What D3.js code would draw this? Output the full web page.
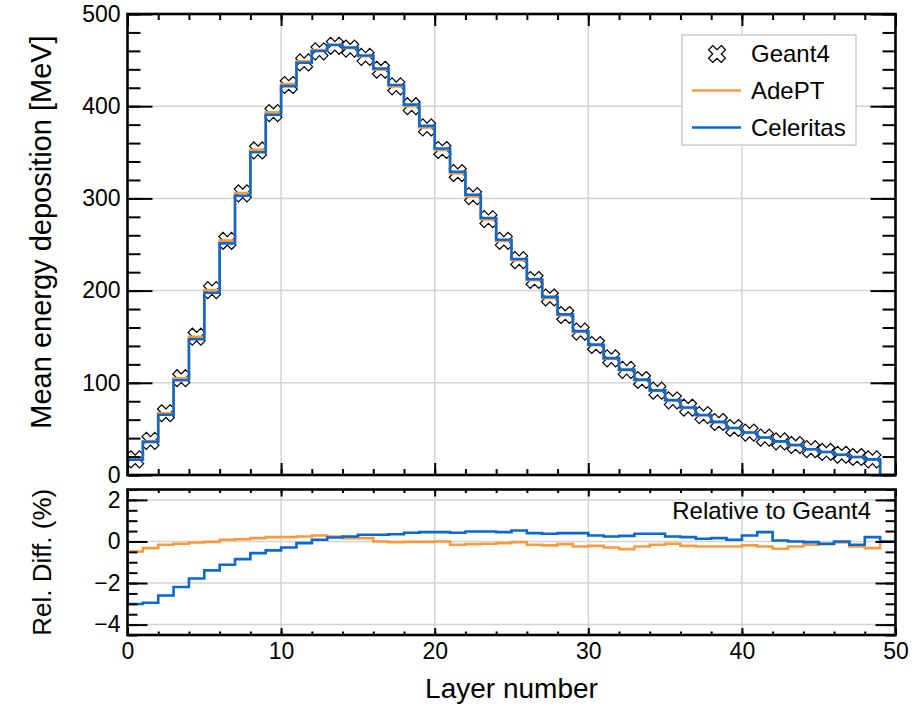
<!DOCTYPE html>
<html>
<head>
<meta charset="utf-8">
<script src="https://cdn.jsdelivr.net/npm/d3@7"></script>
<style>
body { margin: 0; background: #fff; }
svg { font-family: "Liberation Sans", Arial, Helvetica, sans-serif; }
.tick text { font-size: 23px; fill: #000; }
.tick line { stroke: #000; stroke-width: 2; }
</style>
</head>
<body>
<svg id="chart" width="917" height="706"></svg>
<script>
// mean energy deposition per layer [MeV], bins 0..48 (Geant4 markers)
const geant4 = [17.0, 37.0, 67.0, 105.0, 150.0, 200.5, 254.0, 305.5, 352.0, 392.5,
  423.0, 447.5, 459.5, 465.5, 462.5, 453.5, 439.5, 421.5, 400.0, 377.0,
  352.5, 327.5, 302.5, 277.5, 254.0, 233.0, 211.5, 192.5, 173.5, 155.5,
  141.0, 126.5, 114.0, 103.0, 91.5, 81.0, 73.0, 65.0, 57.5, 51.0,
  46.0, 40.5, 36.5, 32.5, 28.0, 25.0, 22.0, 19.5, 17.0];
// histograms, bins 0..49
const adept = [16.9, 36.9, 66.9, 104.9, 149.9, 200.5, 254.2, 305.8, 352.6, 393.3,
  423.9, 448.6, 460.8, 466.6, 463.2, 454.2, 439.5, 421.4, 399.9, 376.9,
  352.5, 327.0, 302.1, 277.2, 253.8, 232.9, 211.2, 192.1, 173.3, 155.1,
  140.7, 126.1, 113.6, 102.8, 91.4, 80.9, 72.8, 64.8, 57.4, 50.9,
  45.9, 40.4, 36.4, 32.4, 28.0, 25.0, 22.0, 19.5, 16.9, 0];
const celeritas = [16.5, 35.9, 65.3, 102.7, 147.3, 197.7, 251.2, 302.9, 350.0, 390.8,
  421.8, 447.1, 459.9, 466.4, 463.6, 455.0, 440.9, 423.0, 401.7, 378.7,
  354.1, 328.9, 304.0, 278.8, 255.1, 234.2, 212.3, 193.2, 174.2, 156.1,
  141.4, 126.8, 114.3, 103.4, 91.8, 81.2, 73.2, 65.1, 57.6, 51.0,
  46.1, 40.7, 36.5, 32.5, 28.0, 25.0, 22.0, 19.5, 17.0, 0];
// relative difference to Geant4 [%]
const relAdept = [-0.48, -0.32, -0.16, -0.11, -0.05, -0.02, 0.08, 0.11, 0.16, 0.21,
  0.21, 0.24, 0.29, 0.24, 0.16, 0.16, 0.0, -0.03, -0.02, -0.02,
  0.0, -0.16, -0.13, -0.11, -0.08, -0.03, -0.16, -0.19, -0.13, -0.24,
  -0.21, -0.29, -0.37, -0.24, -0.16, -0.11, -0.21, -0.24, -0.24, -0.24,
  -0.19, -0.24, -0.35, -0.24, -0.16, -0.13, -0.05, -0.24, -0.32, 0];
const relCeleritas = [-3.01, -2.95, -2.6, -2.19, -1.78, -1.39, -1.12, -0.85, -0.56, -0.43,
  -0.29, -0.08, 0.08, 0.19, 0.24, 0.32, 0.32, 0.35, 0.42, 0.45,
  0.45, 0.42, 0.48, 0.48, 0.45, 0.53, 0.40, 0.37, 0.40, 0.40,
  0.29, 0.24, 0.27, 0.37, 0.37, 0.24, 0.21, 0.13, 0.16, 0.08,
  0.29, 0.45, 0.05, 0.0, -0.03, -0.11, 0.0, -0.16, 0.21, 0];

const xTicks = [0, 10, 20, 30, 40, 50];
const yTicksTop = [0, 100, 200, 300, 400, 500];
const yTicksBottom = [-4, -2, 0, 2];
const legendNames = ["Geant4", "AdePT", "Celeritas"];

const ORANGE = "#f99b3c", BLUE = "#0a68cf", GRID = "#d4d4d4";

const svg = d3.select("#chart");
const x0 = 127.5, x1 = 895.5;
const top0 = 14, top1 = 475, bot0 = 489.5, bot1 = 635;

const x = d3.scaleLinear().domain([0, 50]).range([x0, x1]);
const yTop = d3.scaleLinear().domain([0, 500]).range([top1, top0]);
const yBot = d3.scaleLinear().domain([-4.5, 2.5]).range([bot1, bot0]);
const fmt = d3.format("d");

// filled "X" marker
const filledX = {
  draw(ctx, size) {
    const u = Math.sqrt(size);
    const pts = [[-1,-3],[1,-3],[1,-1],[3,-1],[3,1],[1,1],[1,3],[-1,3],[-1,1],[-3,1],[-3,-1],[-1,-1]];
    pts.forEach((p, i) => {
      const px = (p[0] - p[1]) / Math.SQRT2 * u, py = (p[0] + p[1]) / Math.SQRT2 * u;
      if (i === 0) ctx.moveTo(px, py); else ctx.lineTo(px, py);
    });
    ctx.closePath();
  }
};
const marker = d3.symbol().type(filledX).size(9);

function stepLine(y) {
  return vals => {
    const pts = [[0, 0]];
    vals.forEach((v, i) => pts.push([i, v]));
    pts.push([vals.length, vals[vals.length - 1]], [vals.length, 0]);
    return d3.line().x(d => x(d[0])).y(d => y(d[1])).curve(d3.curveStepAfter)(pts);
  };
}

svg.append("defs").call(d => {
  d.append("clipPath").attr("id", "clipTop").append("rect")
    .attr("x", x0).attr("y", top0).attr("width", x1 - x0).attr("height", top1 - top0);
  d.append("clipPath").attr("id", "clipBot").append("rect")
    .attr("x", x0).attr("y", bot0).attr("width", x1 - x0).attr("height", bot1 - bot0);
});

function panel(y, yTicks, p0, p1, clip, opts) {
  const g = svg.append("g");
  // grid
  g.append("g").selectAll("line").data(xTicks.filter(t => t > 0 && t < 50)).join("line")
    .attr("x1", d => x(d)).attr("x2", d => x(d)).attr("y1", p0).attr("y2", p1)
    .attr("stroke", GRID).attr("stroke-width", 1.5);
  g.append("g").selectAll("line").data(yTicks.filter(t => y(t) > p0 + 1 && y(t) < p1 - 1)).join("line")
    .attr("x1", x0).attr("x2", x1).attr("y1", d => y(d)).attr("y2", d => y(d))
    .attr("stroke", GRID).attr("stroke-width", 1.5);

  const data = g.append("g").attr("clip-path", `url(#${clip})`);
  opts.draw(data);

  // ticks
  const ax = (axis, tx, ty) => {
    const a = g.append("g").attr("transform", `translate(${tx},${ty})`).call(axis);
    a.select(".domain").remove();
    return a;
  };
  const [yMaj, yMin, xMaj, xMin] = opts.ticks;
  ax(d3.axisLeft(y).tickValues(yTicks).tickSize(-yMaj).tickPadding(7).tickFormat(fmt), x0, 0);
  ax(d3.axisLeft(y).tickValues(opts.yMinor).tickSize(-yMin).tickFormat(""), x0, 0);
  ax(d3.axisRight(y).tickValues(yTicks).tickSize(-yMaj).tickFormat(""), x1, 0);
  ax(d3.axisRight(y).tickValues(opts.yMinor).tickSize(-yMin).tickFormat(""), x1, 0);
  ax(d3.axisTop(x).tickValues(xTicks).tickSize(-xMaj).tickFormat(""), 0, p0);
  ax(d3.axisTop(x).tickValues(d3.range(0, 51, 2)).tickSize(-xMin).tickFormat(""), 0, p0);
  const b = ax(d3.axisBottom(x).tickValues(xTicks).tickSize(-xMaj).tickPadding(8).tickFormat(fmt), 0, p1);
  if (!opts.xLabels) b.selectAll("text").remove();
  ax(d3.axisBottom(x).tickValues(d3.range(0, 51, 2)).tickSize(-xMin).tickFormat(""), 0, p1);

  g.append("rect").attr("x", x0).attr("y", p0).attr("width", x1 - x0).attr("height", p1 - p0)
    .attr("fill", "none").attr("stroke", "#000").attr("stroke-width", 2.6);
  return g;
}

// top panel
const topStep = stepLine(yTop);
const gTop = panel(yTop, yTicksTop, top0, top1, "clipTop", {
  yMinor: d3.range(0, 501, 20),
  ticks: [25, 13, 12, 6],
  xLabels: false,
  draw: g => {
    g.selectAll("path.m").data(geant4).join("path").attr("class", "m")
      .attr("d", marker)
      .attr("transform", (d, i) => `translate(${x(i + 0.5)},${yTop(d)})`)
      .attr("fill", "#fff").attr("stroke", "#000").attr("stroke-width", 1.2);
    g.append("path").attr("d", topStep(adept)).attr("fill", "none")
      .attr("stroke", ORANGE).attr("stroke-width", 2.6);
    g.append("path").attr("d", topStep(celeritas)).attr("fill", "none")
      .attr("stroke", BLUE).attr("stroke-width", 2.6);
  }
});

// legend
const lg = gTop.append("g");
lg.append("rect").attr("x", 682).attr("y", 35).attr("width", 174).attr("height", 110)
  .attr("fill", "#fff").attr("stroke", "#cccccc").attr("stroke-width", 1.5);
legendNames.forEach((name, i) => {
  const cy = 54 + i * 37;
  if (i === 0) {
    lg.append("path").attr("d", marker).attr("transform", `translate(717,${cy})`)
      .attr("fill", "#fff").attr("stroke", "#000").attr("stroke-width", 1.2);
  } else {
    lg.append("line").attr("x1", 692).attr("x2", 741).attr("y1", cy - 0.5).attr("y2", cy - 0.5)
      .attr("stroke", i === 1 ? ORANGE : BLUE).attr("stroke-width", 2.6);
  }
  lg.append("text").attr("x", 751).attr("y", cy + 8).attr("font-size", 24).text(name);
});

// bottom panel
const botStep = stepLine(yBot);
const gBot = panel(yBot, yTicksBottom, bot0, bot1, "clipBot", {
  yMinor: d3.range(-4.5, 2.51, 0.5),
  ticks: [20, 10, 7, 3.5],
  xLabels: true,
  draw: g => {
    g.append("path").attr("d", botStep(relAdept)).attr("fill", "none")
      .attr("stroke", ORANGE).attr("stroke-width", 2.6);
    g.append("path").attr("d", botStep(relCeleritas)).attr("fill", "none")
      .attr("stroke", BLUE).attr("stroke-width", 2.6);
  }
});
gBot.append("text").attr("x", 871).attr("y", 519).attr("text-anchor", "end")
  .attr("font-size", 24).text("Relative to Geant4");

// axis titles
svg.append("text").attr("x", (x0 + x1) / 2).attr("y", 698).attr("text-anchor", "middle")
  .attr("font-size", 28).text("Layer number");
svg.append("text").attr("transform", "translate(51,232) rotate(-90)").attr("text-anchor", "middle")
  .attr("font-size", 29).text("Mean energy deposition [MeV]");
svg.append("text").attr("transform", `translate(51,${(bot0 + bot1) / 2}) rotate(-90)`).attr("text-anchor", "middle")
  .attr("font-size", 26).text("Rel. Diff. (%)");
</script>
</body>
</html>
